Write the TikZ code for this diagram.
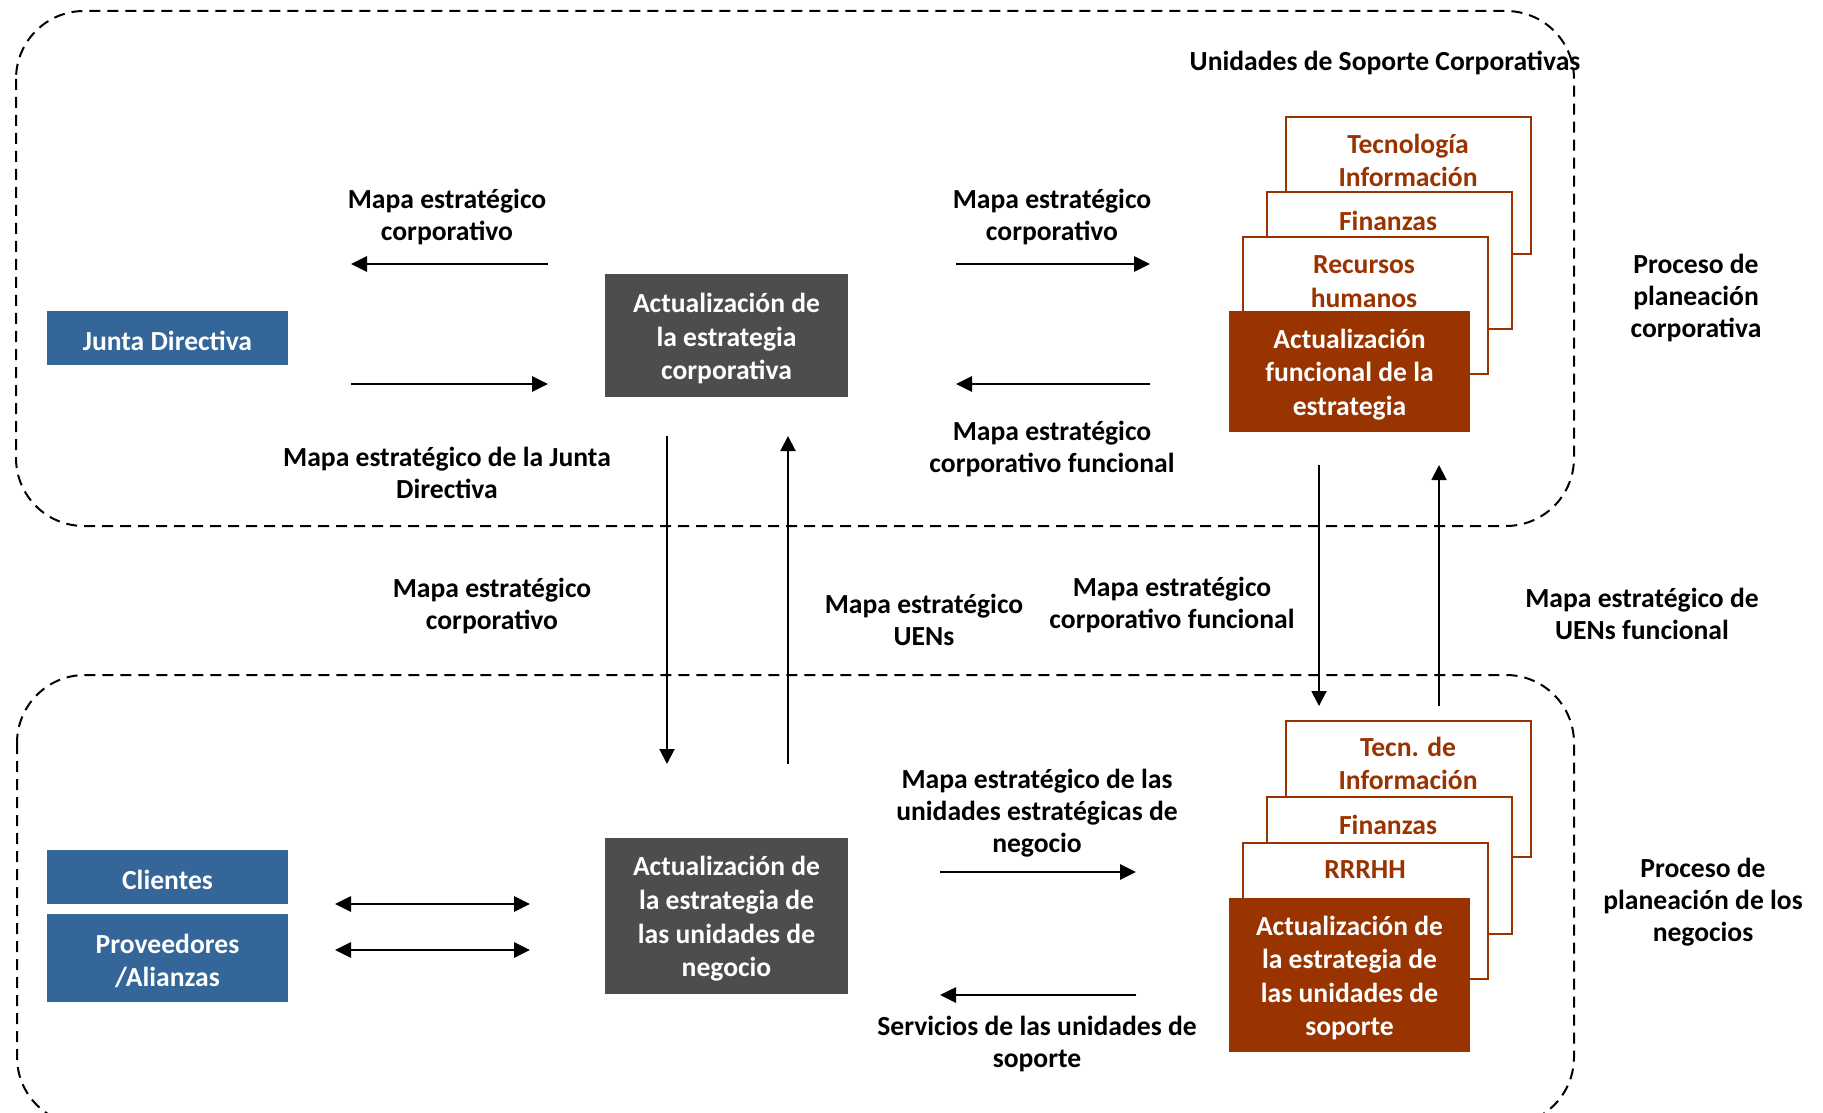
\documentclass[tikz,border=0pt]{standalone}
\usepackage{fontspec}
\setmainfont{Carlito}
\usetikzlibrary{arrows.meta}
\definecolor{jblue}{RGB}{52,102,153}
\definecolor{jgray}{RGB}{77,77,77}
\definecolor{jbrown}{RGB}{153,51,0}
\begin{document}
\begin{tikzpicture}[x=0.5pt,y=-0.5pt,
  txt/.style={font=\bfseries\fontsize{13.8}{16}\selectfont, align=center, inner sep=0pt, yshift=-1.25pt},
  boxtxt/.style={font=\bfseries\fontsize{13.8}{16.8}\selectfont, align=center, inner sep=0pt, yshift=-1.5pt},
  bluebox/.style={fill=jblue, minimum width=120.5pt, inner sep=0pt},
  graybox/.style={fill=jgray, minimum width=121.5pt, inner sep=0pt},
  brownbox/.style={draw=jbrown, line width=1.1pt, fill=white, minimum width=122.5pt, minimum height=68.5pt, inner sep=0pt},
  brownfill/.style={fill=jbrown, minimum width=120.5pt, inner sep=0pt},
  whitetxt/.style={boxtxt, text=white},
  browntxt/.style={boxtxt, text=jbrown, yshift=0.75pt},
  region/.style={draw=black, line width=1pt, dash pattern=on 5.5pt off 3.5pt, rounded corners=34pt},
  harrow/.style={line width=1.35pt, -{Triangle[length=8pt,width=7.5pt]}},
  varrow/.style={line width=1pt, -{Triangle[length=7.5pt,width=7.5pt]}},
  darrow/.style={line width=1.35pt, {Triangle[length=8pt,width=7.5pt]}-{Triangle[length=8pt,width=7.5pt]}}
]
\useasboundingbox (0,0) rectangle (1823,1112);

% regions
\draw[region] (16,11) rectangle (1574,526);
\draw[region] (17,675) rectangle (1574,1125);

% left boxes
\node[bluebox, minimum height=27pt] (jd) at (167.5,338) {};
\node[whitetxt] (jdt) at (jd.center) {Junta Directiva};
\node[bluebox, minimum height=27pt] (cli) at (167.5,877) {};
\node[whitetxt] (clit) at (cli.center) {Clientes};
\node[bluebox, minimum height=44pt] (prov) at (167.5,958) {};
\node[whitetxt] (provt) at (prov.center) {Proveedores\\/Alianzas};

% gray boxes
\node[graybox, minimum height=61.5pt] (g1) at (726.5,335.5) {};
\node[whitetxt] (g1t) at (g1.center) {Actualización de\\la estrategia\\corporativa};
\node[graybox, minimum height=78pt] (g2) at (726.5,916) {};
\node[whitetxt] (g2t) at (g2.center) {Actualización de\\la estrategia de\\las unidades de\\negocio};

% top stack
\node[brownbox] (tb1) at (1408.5,185.5) {};
\node[browntxt] (tt1) at (1408,159) {Tecnología\\Información};
\node[brownbox] (tb2) at (1389.5,260.5) {};
\node[browntxt] (tt2) at (1388,219) {Finanzas};
\node[brownbox] (tb3) at (1365.5,305.5) {};
\node[browntxt] (tt3) at (1364,280) {Recursos\\humanos};
\node[brownfill, minimum height=60.5pt] (tf) at (1349.5,371.5) {};
\node[whitetxt] (tft) at (tf.center) {Actualización\\funcional de la\\estrategia};

% bottom stack
\node[brownbox, minimum height=68pt] (bb1) at (1408.5,789) {};
\node[browntxt] (bt1) at (1408,762) {Tecn. de\\Información};
\node[brownbox] (bb2) at (1389.5,865.5) {};
\node[browntxt] (bt2) at (1388,823) {Finanzas};
\node[brownbox, minimum height=68pt] (bb3) at (1365.5,911) {};
\node[browntxt] (bt3) at (1365,868) {RRRHH};
\node[brownfill, minimum height=77pt] (bf) at (1349.5,975) {};
\node[whitetxt] (bft) at (bf.center) {Actualización de\\la estrategia de\\las unidades de\\soporte};

% labels
\node[txt] (lusc) at (1385,60) {Unidades de Soporte Corporativas};
\node[txt] (lpc) at (1696,295) {Proceso de\\planeación\\corporativa};
\node[txt] (lpn) at (1703,900) {Proceso de\\planeación de los\\negocios};
\node[txt] (l1) at (447,214) {Mapa estratégico\\corporativo};
\node[txt] (l2) at (447,470) {Mapa estratégico de la Junta\\Directiva};
\node[txt] (l3) at (1052,214) {Mapa estratégico\\corporativo};
\node[txt] (l4) at (1052,446) {Mapa estratégico\\corporativo funcional};
\node[txt] (l5) at (492,603) {Mapa estratégico\\corporativo};
\node[txt] (l6) at (924,617) {Mapa estratégico\\UENs};
\node[txt] (l7) at (1172,602) {Mapa estratégico\\corporativo funcional};
\node[txt] (l8) at (1642,611) {Mapa estratégico de\\UENs funcional};
\node[txt] (l9) at (1037,811) {Mapa estratégico de las\\unidades estratégicas de\\negocio};
\node[txt] (l10) at (1037,1041) {Servicios de las unidades de\\soporte};

% arrow end points
\coordinate (a1s) at (548,264); \coordinate (a1e) at (351,264);
\coordinate (a2s) at (351,384); \coordinate (a2e) at (548,384);
\coordinate (a3s) at (956,264); \coordinate (a3e) at (1150,264);
\coordinate (a4s) at (1150,384); \coordinate (a4e) at (956,384);
\coordinate (v1s) at (667,436); \coordinate (v1e) at (667,764);
\coordinate (v2s) at (788,764); \coordinate (v2e) at (788,436);
\coordinate (v3s) at (1319,465); \coordinate (v3e) at (1319,706);
\coordinate (v4s) at (1439,706); \coordinate (v4e) at (1439,465);
\coordinate (d1s) at (335,904); \coordinate (d1e) at (530,904);
\coordinate (d2s) at (335,950); \coordinate (d2e) at (530,950);
\coordinate (b1s) at (940,872); \coordinate (b1e) at (1136,872);
\coordinate (b2s) at (1136,995); \coordinate (b2e) at (940,995);

\draw[harrow] (a1s) -- (a1e);
\draw[harrow] (a2s) -- (a2e);
\draw[harrow] (a3s) -- (a3e);
\draw[harrow] (a4s) -- (a4e);
\draw[varrow] (v1s) -- (v1e);
\draw[varrow] (v2s) -- (v2e);
\draw[varrow] (v3s) -- (v3e);
\draw[varrow] (v4s) -- (v4e);
\draw[darrow] (d1s) -- (d1e);
\draw[darrow] (d2s) -- (d2e);
\draw[harrow] (b1s) -- (b1e);
\draw[harrow] (b2s) -- (b2e);
\end{tikzpicture}
\end{document}
